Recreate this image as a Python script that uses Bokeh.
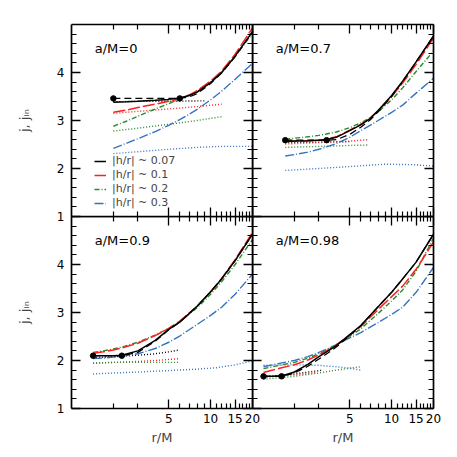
from bokeh.plotting import figure
from bokeh.models import (LinearAxis, FixedTicker, Legend, LegendItem, Label,
                          NumeralTickFormatter, CustomLabelingPolicy)
from bokeh.layouts import row, column
from bokeh.embed import file_html
from bokeh.resources import INLINE

FONT = "DejaVu Sans"
BLACK = "#000000"
RED = "#ff1f1f"
GREEN = "#2a8a2a"
BLUE = "#3573c0"

# ---- axes ticks ----
X_MAJOR = [5, 10, 15, 20]
X_MINOR = [2, 3, 6, 7, 8, 9, 11, 12, 13, 14, 16, 17, 18, 19]
Y_MAJOR = [1, 2, 3, 4]
Y_MINOR = [1.2, 1.4, 1.6, 1.8, 2.2, 2.4, 2.6, 2.8, 3.2, 3.4, 3.6, 3.8, 4.2, 4.4, 4.6, 4.8]

LEGEND_LABELS = ["|h/r| ~ 0.07", "|h/r| ~ 0.1", "|h/r| ~ 0.2", "|h/r| ~ 0.3"]
PANEL_TITLES = ["a/M=0", "a/M=0.7", "a/M=0.9", "a/M=0.98"]

# ---- a/M = 0 ----
r0 = [2, 2.5, 3, 4, 5, 6, 7, 8, 10, 12, 15, 20]
j0_black = [3.38, 3.39, 3.40, 3.42, 3.44, 3.47, 3.52, 3.59, 3.79, 4.00, 4.34, 4.85]
j0_bdash = [3.46, 3.46, 3.46, 3.46, 3.46, 3.46, 3.49, 3.56, 3.77, 3.99, 4.33, 4.85]
j0_red = [3.17, 3.22, 3.27, 3.34, 3.40, 3.46, 3.53, 3.62, 3.82, 4.03, 4.38, 4.93]
j0_green = [2.88, 2.99, 3.09, 3.24, 3.35, 3.45, 3.52, 3.60, 3.80, 4.00, 4.33, 4.82]
j0_blue = [2.42, 2.53, 2.62, 2.77, 2.90, 3.02, 3.13, 3.23, 3.43, 3.61, 3.86, 4.19]
r0_kdot = [2, 3, 5, 9]
j0_kdot = [3.39, 3.40, 3.40, 3.41]
r0_rdot = [2, 3, 5, 8, 12]
j0_rdot = [3.15, 3.19, 3.24, 3.29, 3.34]
r0_gdot = [2, 3, 5, 8, 12]
j0_gdot = [2.78, 2.84, 2.92, 3.00, 3.08]
r0_bdot = [2, 3, 5, 8, 12, 20]
j0_bdot = [2.31, 2.35, 2.40, 2.44, 2.46, 2.46]
r0_isco = [2, 6]
j0_isco = [3.46, 3.46]

# ---- a/M = 0.7 ----
r7 = [1.72, 2, 2.5, 3, 3.4, 4, 5, 6, 7, 8, 10, 12, 15, 20]
j7_black = [2.57, 2.575, 2.58, 2.59, 2.60, 2.65, 2.79, 2.91, 3.04, 3.21, 3.52, 3.82, 4.22, 4.76]
j7_bdash = [2.59, 2.59, 2.59, 2.59, 2.59, 2.60, 2.71, 2.86, 3.01, 3.18, 3.50, 3.81, 4.22, 4.76]
j7_red = [2.56, 2.57, 2.58, 2.59, 2.61, 2.66, 2.80, 2.92, 3.05, 3.20, 3.50, 3.78, 4.17, 4.72]
j7_green = [2.61, 2.63, 2.66, 2.69, 2.72, 2.76, 2.85, 2.95, 3.06, 3.18, 3.43, 3.68, 4.02, 4.45]
j7_blue = [2.26, 2.29, 2.34, 2.40, 2.45, 2.52, 2.65, 2.79, 2.90, 3.00, 3.17, 3.32, 3.57, 3.88]
r7_kdot = [1.72, 3, 5]
j7_kdot = [2.54, 2.55, 2.56]
r7_rdot = [1.72, 3, 5, 6.7]
j7_rdot = [2.51, 2.54, 2.57, 2.60]
r7_gdot = [1.72, 3, 5, 6.9]
j7_gdot = [2.44, 2.46, 2.48, 2.49]
r7_bdot = [1.72, 3, 5, 9, 14, 20]
j7_bdot = [1.96, 2.00, 2.04, 2.09, 2.08, 2.05]
r7_isco = [1.72, 3.41]
j7_isco = [2.59, 2.59]

# ---- a/M = 0.9 ----
r9 = [1.43, 1.7, 2, 2.3, 3, 4, 5, 6, 8, 10, 12, 15, 20]
j9_black = [2.10, 2.10, 2.10, 2.11, 2.20, 2.42, 2.65, 2.80, 3.13, 3.43, 3.70, 4.08, 4.63]
j9_bdash = [2.10, 2.10, 2.10, 2.10, 2.17, 2.40, 2.64, 2.80, 3.13, 3.43, 3.70, 4.08, 4.63]
j9_red = [2.15, 2.18, 2.22, 2.26, 2.36, 2.52, 2.67, 2.82, 3.13, 3.43, 3.71, 4.10, 4.67]
j9_green = [2.17, 2.20, 2.24, 2.28, 2.38, 2.53, 2.67, 2.81, 3.10, 3.38, 3.64, 4.00, 4.52]
j9_blue = [2.04, 2.05, 2.07, 2.09, 2.14, 2.25, 2.38, 2.51, 2.75, 2.94, 3.11, 3.38, 3.80]
r9_kdot = [1.43, 2, 3, 4, 5, 6]
j9_kdot = [2.06, 2.08, 2.11, 2.14, 2.18, 2.22]
r9_rdot = [1.43, 2, 3, 4, 6]
j9_rdot = [1.94, 1.96, 1.98, 2.00, 2.04]
r9_gdot = [1.43, 2, 3, 4, 6]
j9_gdot = [1.95, 1.96, 1.96, 1.96, 1.96]
r9_bdot = [1.43, 2, 3, 5, 8, 11, 15, 20]
j9_bdot = [1.72, 1.74, 1.76, 1.79, 1.82, 1.85, 1.91, 1.99]
r9_isco = [1.43, 2.3]
j9_isco = [2.10, 2.10]

# ---- a/M = 0.98 ----
r98 = [1.2, 1.4, 1.62, 2, 2.5, 3, 3.5, 4, 5, 6, 8, 10, 12, 15, 20]
j98_black = [1.67, 1.67, 1.68, 1.76, 1.92, 2.08, 2.20, 2.31, 2.54, 2.73, 3.12, 3.42, 3.70, 4.05, 4.63]
j98_bdash = [1.67, 1.67, 1.67, 1.74, 1.88, 2.03, 2.16, 2.28, 2.52, 2.72, 3.12, 3.42, 3.70, 4.05, 4.63]
j98_red = [1.75, 1.80, 1.85, 1.91, 2.01, 2.12, 2.22, 2.32, 2.53, 2.71, 3.06, 3.33, 3.55, 3.90, 4.47]
j98_green = [1.83, 1.87, 1.91, 1.96, 2.05, 2.14, 2.23, 2.33, 2.50, 2.66, 2.98, 3.24, 3.47, 3.86, 4.55]
j98_blue = [1.87, 1.91, 1.95, 2.00, 2.08, 2.17, 2.25, 2.33, 2.47, 2.58, 2.79, 2.96, 3.11, 3.42, 3.94]
r98_kdot = [1.2, 2, 3.2]
j98_kdot = [1.66, 1.72, 1.80]
r98_rdot = [1.2, 2, 2.9]
j98_rdot = [1.65, 1.70, 1.75]
r98_gdot = [1.2, 2, 3, 4, 5, 6]
j98_gdot = [1.61, 1.67, 1.74, 1.80, 1.84, 1.87]
r98_bdot = [1.2, 2, 3, 4, 5, 6]
j98_bdot = [1.90, 1.91, 1.90, 1.87, 1.84, 1.80]
r98_isco = [1.2, 1.62]
j98_isco = [1.67, 1.67]


def style_axis(ax, ticker, labels):
    ax.ticker = ticker
    ax.axis_line_width = 1.7
    ax.axis_line_color = BLACK
    ax.major_tick_in = 9
    ax.major_tick_out = 0
    ax.minor_tick_in = 5
    ax.minor_tick_out = 0
    ax.major_tick_line_width = 1.3
    ax.minor_tick_line_width = 1.2
    ax.major_tick_line_color = BLACK
    ax.minor_tick_line_color = BLACK
    if labels:
        ax.major_label_text_font = FONT
        ax.major_label_text_font_size = "12px"
        ax.major_label_text_color = BLACK
    else:
        ax.major_label_policy = CustomLabelingPolicy(code="return []")
        ax.major_label_text_font_size = "0px"
        ax.major_label_standoff = 0


def make_panel(title, r, j_black, j_bdash, j_red, j_green, j_blue, dotted, isco,
               left, bottom, legend=False):
    p = figure(x_axis_type="log", x_range=(1, 20), y_range=(1, 5),
               frame_width=181, frame_height=192,
               min_border_left=71 if left else 0,
               min_border_right=8 if left else 12,
               min_border_top=0 if bottom else 24,
               min_border_bottom=38 if bottom else 8,
               output_backend="svg", toolbar_location=None,
               border_fill_color=None, background_fill_color=None,
               outline_line_color=None)
    p.grid.visible = False
    xt = FixedTicker(ticks=X_MAJOR, minor_ticks=X_MINOR)
    yt = FixedTicker(ticks=Y_MAJOR, minor_ticks=Y_MINOR)

    xb = p.xaxis[0]
    style_axis(xb, xt, bottom)
    if bottom:
        xb.formatter = NumeralTickFormatter(format="0")
        xb.major_label_standoff = 5
        xb.axis_label = "r/M"
        xb.axis_label_text_font = FONT
        xb.axis_label_text_font_size = "13px"
        xb.axis_label_text_font_style = "normal"
        xb.axis_label_standoff = 4
    yl = p.yaxis[0]
    style_axis(yl, yt, left)
    if left:
        yl.major_label_standoff = 7
        yl.axis_label = "j, jᵢₙ"
        yl.axis_label_text_font = FONT
        yl.axis_label_text_font_size = "13px"
        yl.axis_label_text_font_style = "normal"
        yl.axis_label_standoff = 22
    top_ax = LinearAxis()
    style_axis(top_ax, xt, False)
    p.add_layout(top_ax, "above")
    right_ax = LinearAxis()
    style_axis(right_ax, yt, False)
    p.add_layout(right_ax, "right")

    for (rd, jd, col) in dotted:
        p.line(rd, jd, line_color=col, line_width=1.4, line_dash="1 2")
    lb = p.line(r, j_blue, line_color=BLUE, line_width=1.4, line_dash="9 2 1 2")
    lg = p.line(r, j_green, line_color=GREEN, line_width=1.4, line_dash="5 2 1 2")
    lr = p.line(r, j_red, line_color=RED, line_width=1.5, line_dash="12 3")
    p.line(r, j_bdash, line_color=BLACK, line_width=1.3, line_dash="7 4")
    lk = p.line(r, j_black, line_color=BLACK, line_width=1.5)
    p.scatter(isco[0], isco[1], size=5.5, marker="circle", color=BLACK)

    p.add_layout(Label(x=1.47, y=4.34, text=title, text_font=FONT,
                       text_font_size="13px", text_color=BLACK))
    if legend:
        items = [LegendItem(label=LEGEND_LABELS[0], renderers=[lk]),
                 LegendItem(label=LEGEND_LABELS[1], renderers=[lr]),
                 LegendItem(label=LEGEND_LABELS[2], renderers=[lg]),
                 LegendItem(label=LEGEND_LABELS[3], renderers=[lb])]
        lgd = Legend(items=items, location=(23, 7), label_text_font=FONT,
                     label_text_font_size="11px", glyph_width=12, glyph_height=12,
                     label_height=12, label_standoff=6, spacing=1, padding=0,
                     margin=0, border_line_color=None, background_fill_alpha=0)
        p.add_layout(lgd)
    return p


p1 = make_panel(PANEL_TITLES[0], r0, j0_black, j0_bdash, j0_red, j0_green, j0_blue,
                [(r0_kdot, j0_kdot, BLACK), (r0_rdot, j0_rdot, RED),
                 (r0_gdot, j0_gdot, GREEN), (r0_bdot, j0_bdot, BLUE)],
                (r0_isco, j0_isco), left=True, bottom=False, legend=True)
p2 = make_panel(PANEL_TITLES[1], r7, j7_black, j7_bdash, j7_red, j7_green, j7_blue,
                [(r7_kdot, j7_kdot, BLACK), (r7_rdot, j7_rdot, RED),
                 (r7_gdot, j7_gdot, GREEN), (r7_bdot, j7_bdot, BLUE)],
                (r7_isco, j7_isco), left=False, bottom=False)
p3 = make_panel(PANEL_TITLES[2], r9, j9_black, j9_bdash, j9_red, j9_green, j9_blue,
                [(r9_kdot, j9_kdot, BLACK), (r9_rdot, j9_rdot, RED),
                 (r9_gdot, j9_gdot, GREEN), (r9_bdot, j9_bdot, BLUE)],
                (r9_isco, j9_isco), left=True, bottom=True)
p4 = make_panel(PANEL_TITLES[3], r98, j98_black, j98_bdash, j98_red, j98_green, j98_blue,
                [(r98_kdot, j98_kdot, BLACK), (r98_rdot, j98_rdot, RED),
                 (r98_gdot, j98_gdot, GREEN), (r98_bdot, j98_bdot, BLUE)],
                (r98_isco, j98_isco), left=False, bottom=True)

p2.margin = (0, 0, 0, -8)
p4.margin = (0, 0, 0, -8)
top = row(p1, p2, spacing=0)
bot = row(p3, p4, spacing=0)
bot.margin = (-8, 0, 0, 0)
layout = column(top, bot, spacing=0)

open("out.html", "w").write(file_html(layout, INLINE))
